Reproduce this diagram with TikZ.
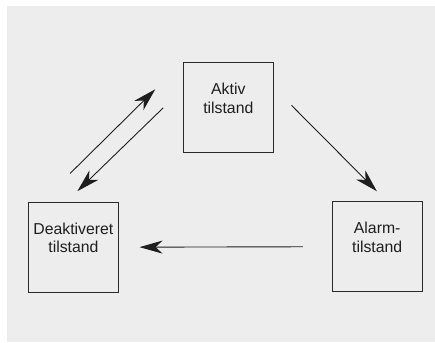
\documentclass[tikz,border=0pt]{standalone}
\usepackage{fontspec}
\setmainfont{Liberation Sans}
\usepackage{xcolor}
\usepackage{tikz}
\usetikzlibrary{arrows.meta,positioning,calc}
\definecolor{panel}{HTML}{EDEDED}
\definecolor{ink}{HTML}{1E1E1E}
\definecolor{frame}{HTML}{2A2A2A}
\tikzset{
  state/.style ={draw=frame,line width=0.9pt,fill=panel,minimum size=90pt,
                 inner sep=0pt,align=center,text=ink,text depth=19pt,
                 font=\fontsize{15.8}{18.5}\selectfont},
  flow/.style  ={-{Stealth[length=23pt,width=13pt,inset=7pt]},line width=0.9pt,draw=ink}
}
\begin{document}
\begin{tikzpicture}
        \useasboundingbox (0,0) rectangle (435pt,-342pt);
        \fill[panel] (7pt,-6pt) rectangle (435pt,-342pt);
        \node[state] (aktiv) at (228.3pt,-107.8pt) {Aktiv\\tilstand};
        \node[state,below left=48.5pt and 64pt of aktiv] (deak) {Deaktiveret\\tilstand};
        \node[state,below right=48pt and 58pt of aktiv] (alarm) {Alarm-\\tilstand};
        \draw[flow] ($(deak.north)+(-3.3pt,28.3pt)$) -- ($(aktiv.west)+(-27.6pt,18.5pt)$);
        \draw[flow] ($(aktiv.west)+(-19.6pt,0pt)$) -- ($(deak.north)+(4pt,10.6pt)$);
        \draw[flow] ($(aktiv.east)+(17.7pt,2.5pt)$) -- ($(alarm.north)+(-0.3pt,10pt)$);
        \draw[flow,shorten <=29pt,shorten >=20.7pt] (alarm.west) -- (deak.east);
      \end{tikzpicture}
\end{document}
